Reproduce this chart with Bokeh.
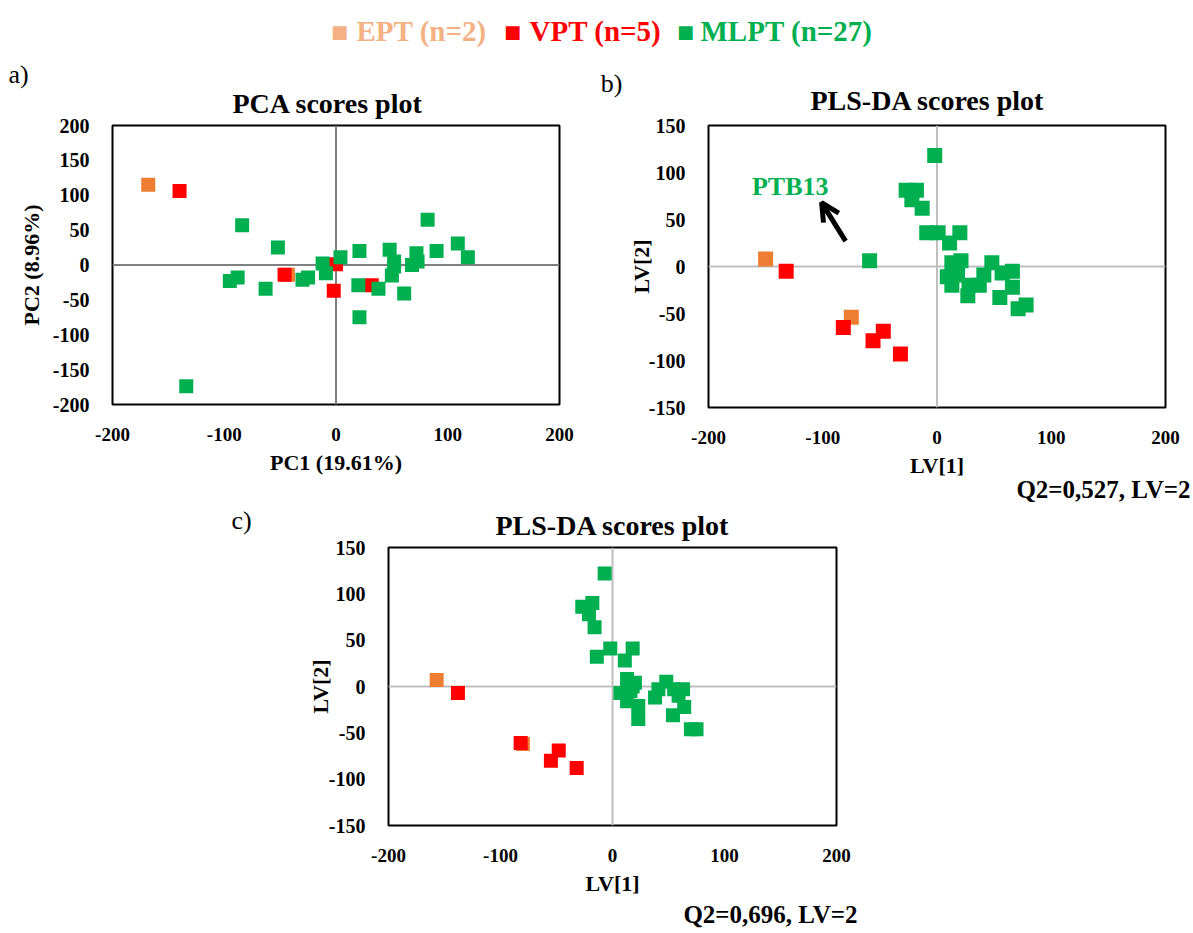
from bokeh.embed import file_html
from bokeh.layouts import column, row
from bokeh.models import Arrow, FixedTicker, Label, OpenHead, Range1d, Span, Title
from bokeh.plotting import figure
from bokeh.resources import INLINE

# ---- groups -------------------------------------------------------------
groups = ["EPT", "VPT", "MLPT"]
group_n = [2, 5, 27]

# ---- a) PCA scores (PC1, PC2) --------------------------------------------
pca_ept_x = [-168, -43]
pca_ept_y = [115, -14]
pca_vpt_x = [-140, -46, 0, -2, 32]
pca_vpt_y = [106, -14, 1, -37, -29]
pca_mlpt_x = [-84, -52, -95, -88, -63, -30, -25, -12, -9, 4, 21, 20, 38, 21, 48,
              52, 50, 61, 72, 73, 68, 82, 90, 109, 118, -134, 52]
pca_mlpt_y = [57, 25, -23, -18, -34, -21, -18, 2, -12, 11, 20, -29, -34, -75, 22,
              5, -15, -41, 17, 5, 0, 65, 20, 31, 11, -174, -2]

# ---- b) PLS-DA scores (LV1, LV2) -----------------------------------------
plsb_ept_x = [-150, -75]
plsb_ept_y = [8, -54]
plsb_vpt_x = [-132, -82, -47, -56, -32]
plsb_vpt_y = [-5, -65, -69, -79, -93]
plsb_mlpt_x = [-59, -2, -27, -18, -22, -13, -9, 1, 20, 11, 13, 21, 9, 18, 13,
               28, 27, 37, 41, 48, 57, 66, 66, 55, 71, 78, 14]
plsb_mlpt_y = [6, 118, 81, 81, 71, 62, 36, 36, 36, 25, 4, 6, -11, -9, -20,
               -20, -31, -20, -9, 4, -7, -5, -22, -33, -45, -41, -3]
plsb_q2 = "0,527"

# ---- c) PLS-DA scores (LV1, LV2) -----------------------------------------
plsc_ept_x = [-157, -80]
plsc_ept_y = [7, -62]
plsc_vpt_x = [-138, -82, -48, -55, -32]
plsc_vpt_y = [-7, -61, -69, -80, -88]
plsc_mlpt_x = [-7, -27, -18, -21, -16, -14, -2, 18, 11, 13, 20, 7, 16, 13, 23,
               23, 38, 41, 48, 55, 63, 59, 64, 54, 70, 75, 18]
plsc_mlpt_y = [122, 86, 90, 78, 64, 32, 41, 41, 28, 8, 4, -7, -5, -16, -21,
               -35, -12, -3, 5, -3, -3, -10, -22, -31, -46, -46, 0]
plsc_q2 = "0,696"

# ---- ticks ----------------------------------------------------------------
x_ticks = [-200, -100, 0, 100, 200]
pca_y_ticks = [-200, -150, -100, -50, 0, 50, 100, 150, 200]
pls_y_ticks = [-150, -100, -50, 0, 50, 100, 150]

# ---- styling ----------------------------------------------------------------
SERIF = "Liberation Serif"
MARKER_COLORS = ["#ED7D31", "#FF0000", "#00B050"]
LEGEND_COLORS = ["#F4B183", "#FF0000", "#00B050"]


def text_strip(left, top, width, height):
    """An axis-less strip whose data units are page pixels."""
    s = figure(width=width, height=height,
               x_range=Range1d(left, left + width), y_range=Range1d(top + height, top),
               x_axis_type=None, y_axis_type=None, min_border=0,
               toolbar_location=None, output_backend="svg")
    s.grid.visible = False
    s.outline_line_color = None
    return s


def put(p, x, y, text, size, color="black", style="bold", align="center", font=SERIF):
    p.add_layout(Label(x=x, y=y, text=text, text_font=font,
                       text_font_size=f"{size}px", text_font_style=style,
                       text_color=color, text_align=align, text_baseline="middle"))


def heading(p, text, place, size, offset, standoff, valign, style="bold", align="left"):
    p.add_layout(Title(text=text, align=align, offset=offset, standoff=standoff,
                       vertical_align=valign, text_font=SERIF,
                       text_font_size=f"{size}px", text_font_style=style,
                       text_color="black"), place)


def scores_panel(fw, fh, borders, y_range, y_ticks, zero_color, series,
                 xlabel, ylabel, ylabel_standoff, marker_size):
    bl, br, bt, bb = borders
    p = figure(frame_width=fw, frame_height=fh,
               min_border_left=bl, min_border_right=br,
               min_border_top=bt, min_border_bottom=bb,
               x_range=Range1d(-200, 200), y_range=Range1d(*y_range),
               x_axis_label=xlabel, y_axis_label=ylabel,
               toolbar_location=None, output_backend="svg")
    p.grid.visible = False
    p.outline_line_color = "black"
    p.outline_line_width = 2
    p.xaxis.ticker = FixedTicker(ticks=x_ticks)
    p.yaxis.ticker = FixedTicker(ticks=y_ticks)
    p.xaxis.major_label_overrides = {t: str(t) for t in x_ticks}
    p.yaxis.major_label_overrides = {t: str(t) for t in y_ticks}
    for ax in p.axis:
        ax.axis_line_color = None
        ax.major_tick_line_color = None
        ax.minor_tick_line_color = None
        ax.major_label_text_font = SERIF
        ax.major_label_text_font_style = "bold"
        ax.major_label_text_color = "black"
        ax.axis_label_text_font = SERIF
        ax.axis_label_text_font_style = "bold"
        ax.axis_label_text_font_size = "22px"
        ax.axis_label_text_color = "black"
    p.xaxis.major_label_text_font_size = "19px"
    p.yaxis.major_label_text_font_size = "20px"
    p.xaxis.major_label_standoff = 17
    p.yaxis.major_label_standoff = 17
    p.xaxis.axis_label_standoff = 6
    p.yaxis.axis_label_standoff = ylabel_standoff

    for dim in ("width", "height"):
        p.add_layout(Span(location=0, dimension=dim, line_color=zero_color,
                          line_width=2, level="underlay"))

    for (xs, ys), color in zip(series, MARKER_COLORS):
        p.scatter(xs, ys, marker="square", size=marker_size,
                  fill_color=color, line_color=None)
    return p


# ---- top strip: group legend ------------------------------------------------------
top = text_strip(0, 0, 1193, 52)
swatch_x = [339, 512, 685]
text_x = [356, 529, 700]
for name, n, col, sx, tx in zip(groups, group_n, LEGEND_COLORS, swatch_x, text_x):
    put(top, sx, 31, "\u25A0", 18, color=col, style="normal", font="DejaVu Sans")
    put(top, tx, 30, f"{name} (n={n})", 29, color=col, align="left")

# ---- a) PCA scores plot -------------------------------------------------------
pa = scores_panel(447, 279, (112, 37, 72, 99), (-200, 200), pca_y_ticks, "#808080",
                  [(pca_ept_x, pca_ept_y), (pca_vpt_x, pca_vpt_y), (pca_mlpt_x, pca_mlpt_y)],
                  "PC1 (19.61%)", "PC2 (8.96%)", 6, 14)
heading(pa, "PCA scores plot", "above", 28, 120, 10, "top")
heading(pa, "a)", "above", 26, -104, -12, "bottom", style="normal")

# ---- b) letter strip ---------------------------------------------------------------
bstrip = text_strip(596, 52, 29, 450)
put(bstrip, 611, 83, "b)", 26, style="normal")

# ---- b) PLS-DA scores plot ------------------------------------------------------
pb = scores_panel(457, 282, (83, 28, 73, 95), (-150, 150), pls_y_ticks, "#BFBFBF",
                  [(plsb_ept_x, plsb_ept_y), (plsb_vpt_x, plsb_vpt_y), (plsb_mlpt_x, plsb_mlpt_y)],
                  "LV[1]", "LV[2]", -8, 15)
heading(pb, "PLS-DA scores plot", "above", 28, 102, 16, "top")
heading(pb, f"Q2={plsb_q2}, LV=2", "below", 25, -25, -10, "top", align="right")
pb.add_layout(Label(x=-162, y=85, text="PTB13", text_font=SERIF, text_font_size="26px",
                    text_font_style="bold", text_color="#00B050",
                    text_align="left", text_baseline="middle"))
pb.add_layout(Arrow(end=OpenHead(line_width=5, size=18, line_color="black"),
                    x_start=-80, y_start=27, x_end=-101, y_end=68,
                    line_width=5, line_color="black"))

# ---- c) letter strip ---------------------------------------------------------------
cstrip = text_strip(0, 502, 300, 431)
put(cstrip, 241, 520, "c)", 26, style="normal")

# ---- c) PLS-DA scores plot ------------------------------------------------------
pc = scores_panel(448, 278, (88, 357, 45, 108), (-150, 150), pls_y_ticks, "#BFBFBF",
                  [(plsc_ept_x, plsc_ept_y), (plsc_vpt_x, plsc_vpt_y), (plsc_mlpt_x, plsc_mlpt_y)],
                  "LV[1]", "LV[2]", -7, 14)
heading(pc, "PLS-DA scores plot", "above", 28, 107, 10, "top")
heading(pc, f"Q2={plsc_q2}, LV=2", "below", 25, -21, 4, "top", align="right")

# letter strips sit in their own columns so that their frames are laid out on their own
layout = column(top, row(pa, column(bstrip), pb), row(column(cstrip), pc))
open("out.html", "w").write(file_html(layout, INLINE))
